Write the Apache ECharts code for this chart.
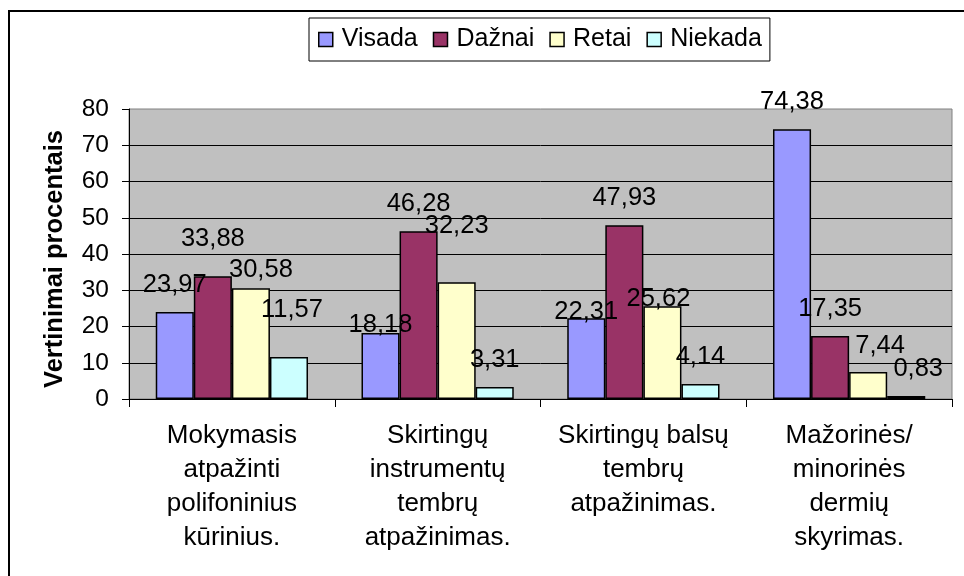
<!DOCTYPE html>
<html style="height: 100%">
<head>
    <meta charset="utf-8">
</head>
<body style="height: 100%; margin: 0; background: #fff">
<div id="container" style="width: 964px; height: 576px"></div>
<script src="https://cdn.jsdelivr.net/npm/echarts@6/dist/echarts.min.js"></script>
<script>
    // kategorijos ir reikšmės
    var categories = [
        'Mokymasis\natpažinti\npolifoninius\nkūrinius.',
        'Skirtingų\ninstrumentų\ntembrų\natpažinimas.',
        'Skirtingų balsų\ntembrų\natpažinimas.',
        'Mažorinės/\nminorinės\ndermių\nskyrimas.'
    ];
    var visada = [23.97, 18.18, 22.31, 74.38];
    var daznai = [33.88, 46.28, 47.93, 17.35];
    var retai = [30.58, 32.23, 25.62, 7.44];
    var niekada = [11.57, 3.31, 4.14, 0.83];
    var yTicks = [0, 10, 20, 30, 40, 50, 60, 70, 80];

    var font = 'Liberation Sans, Arial, sans-serif';
    var dom = document.getElementById('container');
    var myChart = echarts.init(dom);

    // etikečių poslinkiai (kaip originale, kai kurios perkeltos ranka)
    function makeBar(name, data, color, shifts) {
        return {
            name: name,
            type: 'bar',
            data: data.map(function (v, i) {
                return {value: v, label: {offset: shifts[i]}};
            }),
            barGap: '0%',
            barCategoryGap: '26%',
            itemStyle: {color: color, borderColor: '#000', borderWidth: 1.5},
            label: {
                show: true,
                position: 'top',
                distance: 14,
                color: '#000',
                fontFamily: font,
                fontSize: 25.5,
                formatter: function (p) {
                    return p.value.toFixed(2).replace('.', ',');
                }
            }
        };
    }

    var option = {
        animation: false,
        backgroundColor: '#fff',
        textStyle: {fontFamily: font},
        graphic: [{
            type: 'rect',
            shape: {x: 9, y: 11, width: 1000, height: 620},
            style: {fill: 'none', stroke: '#000', lineWidth: 2},
            z: 100
        }],
        legend: {
            left: 309,
            top: 18,
            padding: [9, 8, 9, 9],
            itemGap: 15,
            itemWidth: 14,
            itemHeight: 14,
            icon: 'rect',
            backgroundColor: '#fff',
            borderColor: '#000',
            borderWidth: 1,
            itemStyle: {borderColor: '#000', borderWidth: 1.5},
            textStyle: {fontSize: 25, color: '#000', fontFamily: font, padding: [0, 0, 0, 4]},
            data: ['Visada', 'Dažnai', 'Retai', 'Niekada']
        },
        grid: {
            left: 129,
            right: 12,
            top: 109,
            bottom: 177,
            show: true,
            backgroundColor: '#C0C0C0',
            borderColor: '#808080',
            borderWidth: 1
        },
        xAxis: {
            type: 'category',
            data: categories,
            axisLine: {lineStyle: {color: '#000', width: 1}},
            axisTick: {show: true, length: 8, lineStyle: {color: '#000'}},
            axisLabel: {
                color: '#000',
                fontFamily: font,
                fontSize: 26,
                lineHeight: 34,
                margin: 20,
                interval: 0
            }
        },
        yAxis: {
            type: 'value',
            min: yTicks[0],
            max: yTicks[yTicks.length - 1],
            interval: 10,
            name: 'Vertinimai procentais',
            nameLocation: 'middle',
            nameGap: 61,
            nameTextStyle: {fontSize: 25.5, fontWeight: 'bold', color: '#000', fontFamily: font, padding: [0, 10, 0, 0]},
            axisLine: {show: true, lineStyle: {color: '#000', width: 1}},
            axisTick: {show: true, length: 7, lineStyle: {color: '#000'}},
            axisLabel: {color: '#000', fontFamily: font, fontSize: 24.5, margin: 20},
            splitLine: {show: true, showMaxLine: false, lineStyle: {color: '#000', width: 1}}
        },
        series: [
            makeBar('Visada', visada, '#9999FF', [[0, 0], [0, 19], [0, 21], [0, 0]]),
            makeBar('Dažnai', daznai, '#993366', [[0, -10], [0, 0], [0, 0], [0, 0]]),
            makeBar('Retai', retai, '#FFFFCC', [[10, 9], [0, -29], [-4, 20], [12, 1]]),
            makeBar('Niekada', niekada, '#CCFFFF', [[3, -20], [0, 0], [0, 0], [12, 0]])
        ]
    };
    myChart.setOption(option);
</script>
</body>
</html>
